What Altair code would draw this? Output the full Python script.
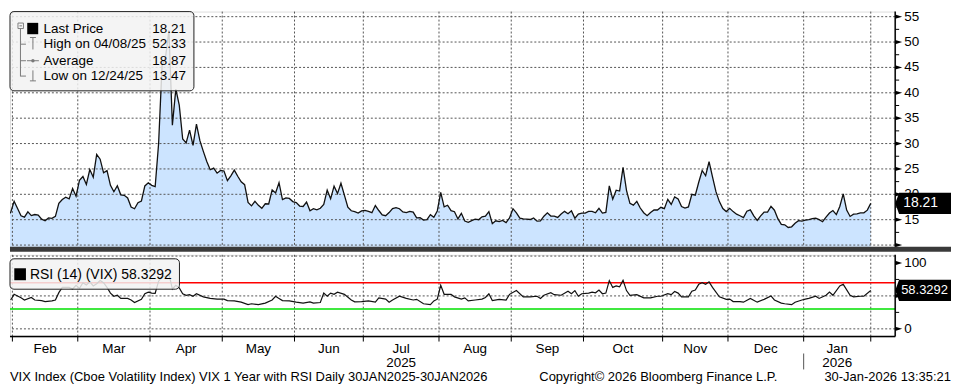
import altair as alt
import pandas as pd

FONT = "Liberation Sans"
TXT = "#000000"

# ---------------- data ----------------
HOLIDAYS = ["2025-02-17", "2025-04-18", "2025-05-26", "2025-06-19", "2025-07-04",
            "2025-09-01", "2025-11-27", "2025-12-25", "2026-01-01", "2026-01-19"]

VIX_JAN25 = [15.84, 16.43]
VIX_FEB25 = [18.62, 17.21, 15.77, 15.50, 16.54, 15.81, 16.02, 15.89, 15.10, 14.77,
             15.35, 15.27, 15.66, 18.21, 18.98, 19.43, 19.10, 21.13, 19.63]
VIX_MAR25 = [22.78, 23.51, 21.93, 24.87, 23.37, 27.86, 26.92, 24.23, 24.66, 21.77,
             20.51, 21.70, 19.90, 19.80, 19.28, 17.48, 17.15, 18.33, 18.69, 21.65, 22.28]
VIX_APR25 = [21.77, 21.51, 30.02, 45.31, 46.98, 52.33, 33.62, 40.72, 37.56, 30.89,
             30.12, 32.64, 29.65, 33.82, 30.57, 28.45, 26.47, 24.84, 25.15, 24.17, 24.70]
VIX_MAY25 = [24.60, 22.68, 23.64, 24.76, 23.55, 22.48, 21.90, 18.39, 17.72, 18.62,
             17.83, 17.24, 18.14, 18.09, 20.87, 20.28, 22.29, 18.96, 19.31, 19.18, 18.57]
VIX_JUN25 = [18.36, 17.69, 17.61, 18.48, 16.77, 17.16, 16.95, 17.26, 18.02, 20.82,
             19.11, 21.60, 20.14, 22.17, 19.83, 17.48, 16.76, 16.59, 16.32, 16.73]
VIX_JUL25 = [16.83, 16.64, 16.38, 17.79, 16.81, 15.94, 15.78, 16.40, 17.20, 17.38,
             17.16, 16.52, 16.41, 16.65, 16.50, 15.37, 15.39, 14.93, 15.03, 15.98,
             15.48, 16.72]
VIX_AUG25 = [20.38, 17.52, 17.85, 16.77, 16.57, 15.15, 16.25, 14.73, 14.49, 14.83,
             15.09, 14.99, 15.57, 15.69, 16.60, 14.22, 14.79, 14.62, 14.85, 14.43, 15.36]
VIX_SEP25 = [17.17, 16.35, 15.30, 15.18, 15.11, 15.04, 15.35, 14.71, 14.76, 15.69,
             16.36, 15.72, 15.70, 15.45, 16.10, 16.64, 16.18, 16.74, 15.29, 16.12, 16.28]
VIX_OCT25 = [16.29, 16.63, 16.65, 16.37, 17.24, 16.30, 16.43, 21.66, 19.03, 20.81,
             20.64, 25.31, 20.78, 18.23, 17.87, 18.60, 17.30, 16.37, 15.79, 16.42,
             16.92, 16.91, 17.44]
VIX_NOV25 = [17.17, 19.00, 18.01, 19.50, 19.08, 17.60, 17.28, 17.51, 20.00, 19.83,
             22.38, 24.69, 23.66, 26.42, 23.43, 20.52, 18.56, 17.19, 16.60]
VIX_DEC25 = [17.24, 16.59, 16.08, 15.78, 15.41, 16.66, 16.93, 15.77, 14.85, 15.74,
             16.50, 16.48, 17.62, 16.87, 15.20, 14.08, 14.00, 13.47, 13.60, 14.30,
             14.80, 14.70]
VIX_JAN26 = [14.90, 15.00, 15.20, 15.30, 15.00, 14.60, 15.50, 16.30, 16.80, 16.00,
             17.60, 20.09, 16.90, 15.64, 16.09, 16.15, 16.35, 16.35, 16.88, 18.21]

# RSI(14): trading-day number and value
RSI_DAY = [1, 2, 4, 5, 7, 8, 10, 11, 13, 14, 15, 16, 18, 19, 20, 21, 22, 23, 24, 25,
           26, 27, 28, 29, 30, 31, 32, 33, 35, 36, 37, 39, 40, 41, 42, 43, 44, 45, 46, 47,
           48, 49, 50, 51, 52, 53, 54, 55, 57, 59, 61, 63, 64, 66, 68, 70, 71, 73, 75, 77,
           78, 79, 80, 82, 84, 86, 88, 89, 91, 92, 93, 94, 95, 96, 98, 100, 101, 103, 105, 107,
           108, 110, 111, 112, 114, 116, 118, 119, 121, 123, 124, 125, 126, 127, 129, 130, 132, 133, 134, 136,
           138, 139, 140, 141, 143, 145, 146, 148, 150, 152, 154, 155, 156, 158, 159, 161, 163, 164, 165, 166,
           167, 169, 170, 171, 172, 173, 174, 175, 176, 177, 178, 179, 180, 181, 183, 185, 187, 189, 190, 192,
           193, 194, 195, 196, 198, 199, 200, 201, 202, 203, 204, 205, 207, 209, 210, 211, 213, 214, 216, 218,
           220, 222, 223, 225, 226, 228, 229, 231, 232, 233, 235, 236, 238, 239, 240, 242, 243, 245, 246, 248,
           249, 251]
RSI_VAL = [43.8, 52.4, 47.1, 43.8, 47.6, 43.8, 42.9, 41.4, 42.4, 43.8, 55.0, 62.9, 62.9, 60.5, 66.2, 61.4, 70.0, 66.7, 71.4, 65.2,
           68.6, 73.3, 70.0, 62.9, 54.3, 49.5, 51.0, 46.2, 46.2, 43.8, 40.0, 44.8, 53.3, 55.7, 54.3, 54.0, 72.4, 79.0, 80.0, 83.0,
           60.5, 66.0, 62.0, 53.3, 51.0, 52.0, 49.5, 53.3, 48.6, 46.2, 45.2, 45.2, 42.9, 42.4, 40.5, 36.7, 38.1, 36.7, 39.0, 43.8,
           49.5, 46.2, 42.9, 42.4, 40.5, 39.0, 41.0, 39.0, 40.0, 54.3, 49.5, 54.3, 52.4, 55.7, 52.4, 43.8, 41.0, 41.4, 42.4, 40.5,
           47.1, 45.2, 40.5, 43.8, 49.5, 46.2, 43.8, 44.8, 38.1, 36.7, 42.4, 45.0, 66.2, 52.4, 52.4, 48.6, 45.2, 47.1, 42.4, 43.8,
           45.2, 47.6, 53.3, 42.9, 44.8, 43.8, 52.4, 58.1, 48.6, 48.6, 49.5, 46.2, 51.0, 54.8, 51.9, 51.0, 57.1, 53.3, 58.1, 49.5,
           53.3, 54.3, 55.7, 54.8, 59.0, 53.3, 54.3, 73.3, 62.9, 65.2, 63.8, 73.8, 58.1, 51.0, 51.9, 47.1, 47.1, 49.5, 49.5, 53.3,
           51.9, 56.7, 54.3, 48.6, 48.6, 57.1, 59.0, 67.6, 70.0, 67.6, 71.4, 62.9, 48.6, 44.8, 45.2, 41.4, 41.4, 40.5, 46.2, 40.5,
           44.8, 50.0, 43.8, 39.0, 38.1, 36.7, 40.5, 43.8, 45.2, 46.2, 49.5, 46.2, 51.0, 55.7, 51.0, 65.2, 67.6, 51.0, 48.6, 49.5,
           49.5, 58.33]

TOP_LABELED = [15, 20, 25, 30, 35, 40, 45, 50, 55]
TOP_TICKS = [10, 12.5, 15, 17.5, 20, 22.5, 25, 27.5, 30, 32.5, 35, 37.5, 40, 42.5, 45, 47.5, 50, 52.5, 55]
TOP_GRID = [10, 15, 20, 25, 30, 35, 40, 45, 50, 55]
TOP_MARKED = [10, 15, 20, 25, 30, 35, 40, 45, 50, 55]
RSI_LABELED = [0, 50, 100]
RSI_TICKS = [0, 25, 50, 75, 100]
RSI_GRID = [0, 50, 110.5]
RSI_MARKED = [0, 50, 100]
RSI_LEVELS = [70, 30]
RSI_LEVEL_COLORS = ["#ff0000", "#00e000"]
MONTH_NAMES = ["Feb", "Mar", "Apr", "May", "Jun", "Jul", "Aug", "Sep", "Oct", "Nov", "Dec", "Jan"]
YEAR_NAMES = {"Jul": "2025", "Jan": "2026"}

LEGEND_LABELS = ["Last Price", "High on 04/08/25", "Average", "Low on 12/24/25"]
LEGEND_VALUES = ["18.21", "52.33", "18.87", "13.47"]
RSI_LEGEND = "RSI (14) (VIX) 58.3292"
LAST_PRICE_TEXT = "18.21"
LAST_RSI_TEXT = "58.3292"
FOOT_LEFT = "VIX Index (Cboe Volatility Index) VIX 1 Year with RSI Daily 30JAN2025-30JAN2026"
FOOT_MID = "Copyright\u00a9 2026 Bloomberg Finance L.P."
FOOT_RIGHT = "30-Jan-2026 13:35:21"

# ---------------- tables ----------------
vix = (VIX_JAN25 + VIX_FEB25 + VIX_MAR25 + VIX_APR25 + VIX_MAY25 + VIX_JUN25 + VIX_JUL25
       + VIX_AUG25 + VIX_SEP25 + VIX_OCT25 + VIX_NOV25 + VIX_DEC25 + VIX_JAN26)
days = pd.bdate_range("2025-01-30", "2026-01-30")
days = days[~days.isin(pd.to_datetime(HOLIDAYS))][:len(vix)]
n = len(days)
vix_df = pd.DataFrame({"t": list(range(n)), "vix": vix[:n]})
rsi_df = pd.DataFrame({"t": RSI_DAY, "rsi": RSI_VAL})

months = days.to_period("M")
bounds = [i - 0.5 for i in range(1, n) if months[i] != months[i - 1]] + [n - 1]
mids = [(bounds[i] + bounds[i + 1]) / 2 for i in range(len(bounds) - 1)]
month_df = pd.DataFrame({"m": mids, "name": MONTH_NAMES[:len(mids)]})
year_df = pd.DataFrame({"m": [m for m, nm in zip(mids, MONTH_NAMES) if nm in YEAR_NAMES],
                        "name": [YEAR_NAMES[nm] for nm in MONTH_NAMES[:len(mids)] if nm in YEAR_NAMES]})

ONE = pd.DataFrame({"a": [0]})

W, H1, H2 = 888, 236, 82
xs = alt.Scale(domain=[0.8, 258.1], nice=False, zero=False)
ys_top = alt.Scale(domain=[9.65, 56.0], nice=False, zero=False)
ys_bot = alt.Scale(domain=[-11.7, 112.4], nice=False, zero=False)

TRI = "M-1,-0.62L1,0L-1,0.62Z"
BOX = "M-1,0L-0.86,-0.38L1,-0.38L1,0.38L-0.86,0.38Z"
GRID_COLOR = "#555555"


def vrule(x, y1, y2, color="#7a7a7a", width=1.0):
    return alt.Chart(ONE).mark_rule(color=color, strokeWidth=width).encode(
        x=alt.value(x), y=alt.value(y1), y2=alt.value(y2))


def hrule(x1, x2, y, color="#7a7a7a", width=1.0):
    return alt.Chart(ONE).mark_rule(color=color, strokeWidth=width).encode(
        x=alt.value(x1), x2=alt.value(x2), y=alt.value(y))


def label(txt, x, y, align="left", size=14, color=TXT):
    return alt.Chart(ONE).mark_text(text=txt, align=align, baseline="middle", font=FONT,
                                    fontSize=size, color=color).encode(
        x=alt.value(x), y=alt.value(y))


def box(x1, x2, y1, y2, fill="#f2f2f2", opacity=0.85, stroke="#222222", radius=4):
    return alt.Chart(ONE).mark_rect(fill=fill, fillOpacity=opacity, stroke=stroke,
                                    strokeWidth=1, cornerRadius=radius).encode(
        x=alt.value(x1), x2=alt.value(x2), y=alt.value(y1), y2=alt.value(y2))


def right_scale_parts(labeled, ticks, marked, yscale, h):
    """Right-hand value scale drawn from the tick lists through the y scale."""
    tick_layer = alt.Chart(pd.DataFrame({"v": ticks})).mark_rule(color="black", strokeWidth=1).encode(
        x=alt.value(W), x2=alt.value(W + 4), y=alt.Y("v:Q", scale=yscale, axis=None))
    tri_layer = alt.Chart(pd.DataFrame({"v": marked})).mark_point(
        shape=TRI, filled=True, size=49, color="black", opacity=1).encode(
        x=alt.value(W + 3.5), y=alt.Y("v:Q", scale=yscale, axis=None))
    lab_layer = alt.Chart(pd.DataFrame({"v": labeled})).mark_text(
        align="left", baseline="middle", font=FONT, fontSize=13.5, color=TXT).encode(
        x=alt.value(W + 9), y=alt.Y("v:Q", scale=yscale, axis=None), text="v:Q")
    dom = vrule(W, 0, h, color="black", width=1.5)
    return [tick_layer, tri_layer, lab_layer, dom]


# ---------------- top panel ----------------
area = alt.Chart(vix_df).mark_area(color="#cce4ff", clip=True).encode(
    x=alt.X("t:Q", scale=xs, axis=None),
    y=alt.Y("vix:Q", scale=ys_top, axis=None))
hgrid_top = alt.Chart(pd.DataFrame({"v": TOP_GRID})).mark_rule(
    color=GRID_COLOR, strokeDash=[2, 2], strokeWidth=1).encode(
    y=alt.Y("v:Q", scale=ys_top, axis=None))
vgrid_top = alt.Chart(pd.DataFrame({"b": bounds})).mark_rule(
    color=GRID_COLOR, strokeDash=[2, 2], strokeWidth=1).encode(
    x=alt.X("b:Q", scale=xs, axis=None))
line = alt.Chart(vix_df).mark_line(color="#111111", strokeWidth=1.3, clip=True).encode(
    x=alt.X("t:Q", scale=xs, axis=None),
    y=alt.Y("vix:Q", scale=ys_top, axis=None))
last_df = vix_df.tail(1)
last_box = alt.Chart(last_df).mark_point(shape=BOX, filled=True, size=56 * 56,
                                         color="black", opacity=1).encode(
    x=alt.value(W + 28), y=alt.Y("vix:Q", scale=ys_top, axis=None))
last_txt = alt.Chart(last_df).mark_text(text=LAST_PRICE_TEXT, align="left", baseline="middle",
                                        font=FONT, fontSize=14, color="white").encode(
    x=alt.value(W + 8), y=alt.Y("vix:Q", scale=ys_top, axis=None))
divider = alt.Chart(ONE).mark_rect(color="#3a3a3a").encode(
    x=alt.value(0), x2=alt.value(W + 56), y=alt.value(H1), y2=alt.value(H1 + 5))

row_y = [17.3, 32.7, 49.3, 64.7]
legend_layers = [box(0, 184.5, 0, 79.5)]
legend_layers += [
    alt.Chart(ONE).mark_rect(fill="none", stroke="#808080", strokeWidth=1).encode(
        x=alt.value(8), x2=alt.value(13.5), y=alt.value(11.5), y2=alt.value(17)),
    hrule(9.5, 12, 14.3),
    vrule(10.5, 17, 65),
    hrule(10.5, 16, 32.7), hrule(10.5, 16, 49.3), hrule(10.5, 16, 64.7),
    alt.Chart(ONE).mark_rect(color="black").encode(
        x=alt.value(17.3), x2=alt.value(28.3), y=alt.value(11.3), y2=alt.value(22.7)),
    hrule(20, 26, 26), vrule(23, 26, 38),
    hrule(17, 29, 49.3),
    alt.Chart(ONE).mark_point(shape="circle", filled=True, size=12, color="#7a7a7a", opacity=1).encode(
        x=alt.value(23), y=alt.value(49.3)),
    vrule(23, 59, 69.5), hrule(20, 26, 69.5),
]
for lab, val, yy in zip(LEGEND_LABELS, LEGEND_VALUES, row_y):
    legend_layers.append(label(lab, 33.7, yy, size=13.5))
    legend_layers.append(label(val, 176.5, yy, align="right", size=13.5))

top = alt.layer(area, hgrid_top, vgrid_top, line, *legend_layers,
                *right_scale_parts(TOP_LABELED, TOP_TICKS, TOP_MARKED, ys_top, H1),
                last_box, last_txt, divider).properties(width=W, height=H1)

# ---------------- bottom panel (RSI) ----------------
rsi_line = alt.Chart(rsi_df).mark_line(color="#111111", strokeWidth=1.2, clip=True).encode(
    x=alt.X("t:Q", scale=xs, axis=None),
    y=alt.Y("rsi:Q", scale=ys_bot, axis=None))
hgrid_bot = alt.Chart(pd.DataFrame({"v": RSI_GRID})).mark_rule(
    color=GRID_COLOR, strokeDash=[2, 2], strokeWidth=1).encode(
    y=alt.Y("v:Q", scale=ys_bot, axis=None))
vgrid_bot = alt.Chart(pd.DataFrame({"b": bounds})).mark_rule(
    color=GRID_COLOR, strokeDash=[2, 2], strokeWidth=1).encode(
    x=alt.X("b:Q", scale=xs, axis=None))
xticks = alt.Chart(pd.DataFrame({"b": bounds})).mark_rule(color="black", strokeWidth=1).encode(
    x=alt.X("b:Q", scale=xs, axis=None), y=alt.value(H2), y2=alt.value(H2 + 5))
xdomain = hrule(0, W, H2, color="black", width=1.5)
levels = alt.Chart(pd.DataFrame({"v": RSI_LEVELS, "c": RSI_LEVEL_COLORS})).mark_rule(
    strokeWidth=1.5).encode(
    y=alt.Y("v:Q", scale=ys_bot, axis=None),
    color=alt.Color("c:N", scale=None, legend=None))
last_rsi = rsi_df.tail(1)
rsi_box = alt.Chart(last_rsi).mark_point(shape=BOX, filled=True, size=56 * 56,
                                         color="black", opacity=1).encode(
    x=alt.value(W + 28), y=alt.Y("rsi:Q", scale=ys_bot, axis=None))
rsi_txt = alt.Chart(last_rsi).mark_text(text=LAST_RSI_TEXT, align="left", baseline="middle",
                                        font=FONT, fontSize=13, color="white").encode(
    x=alt.value(W + 6), y=alt.Y("rsi:Q", scale=ys_bot, axis=None))
month_txt = alt.Chart(month_df).mark_text(baseline="middle", align="center", font=FONT,
                                          fontSize=13.5, color=TXT).encode(
    x=alt.X("m:Q", scale=xs, axis=None), y=alt.value(H2 + 12), text="name:N")
year_txt = alt.Chart(year_df).mark_text(baseline="middle", align="center", font=FONT,
                                        fontSize=13.5, color=TXT).encode(
    x=alt.X("m:Q", scale=xs, axis=None), y=alt.value(H2 + 27), text="name:N")
year_sep = alt.Chart(pd.DataFrame({"b": [bounds[11]]})).mark_rule(
    color="#555555", strokeWidth=1).encode(
    x=alt.X("b:Q", scale=xs, axis=None), y=alt.value(H2 + 17), y2=alt.value(H2 + 33))

rsi_legend = [
    box(0, 170, 4, 34.5),
    alt.Chart(ONE).mark_rect(color="black").encode(
        x=alt.value(4.3), x2=alt.value(16), y=alt.value(13.5), y2=alt.value(25.5)),
    label(RSI_LEGEND, 20, 19.8),
]
footer = [
    label(FOOT_LEFT, 0, H2 + 41, size=13),
    label(FOOT_MID, 531, H2 + 41, size=13),
    label(FOOT_RIGHT, W + 56, H2 + 41, align="right", size=13),
]

bottom = alt.layer(hgrid_bot, vgrid_bot, levels, rsi_line, *rsi_legend,
                   *right_scale_parts(RSI_LABELED, RSI_TICKS, RSI_MARKED, ys_bot, H2),
                   xdomain, xticks, rsi_box, rsi_txt, month_txt, year_txt, year_sep,
                   *footer).properties(width=W, height=H2)

chart = alt.vconcat(top, bottom, spacing=0).properties(padding=0).configure_view(
    strokeWidth=0).configure(font=FONT)

chart.save("out.html", embed_options={"renderer": "svg", "actions": False})
